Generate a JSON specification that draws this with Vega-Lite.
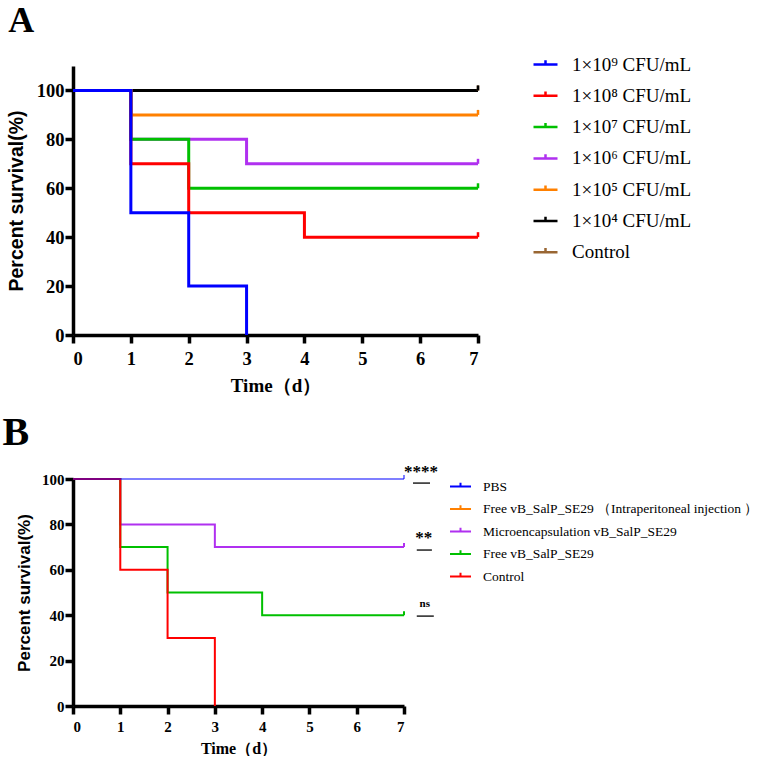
{
  "$schema": "https://vega.github.io/schema/vega-lite/v6.json",
  "background": "white",
  "padding": {"left": 2, "top": 3, "right": 0, "bottom": 0},
  "config": {
    "view": {"stroke": null},
    "axis": {
      "domainColor": "black", "domainWidth": 3.5, "tickColor": "black", "tickWidth": 3.5,
      "tickSize": 8, "grid": false, "labelColor": "black", "titleColor": "black",
      "labelFont": "Liberation Serif", "labelFontWeight": "bold"
    },
    "legend": {"labelFont": "Liberation Serif", "labelColor": "black", "labelFontWeight": "normal", "labelLimit": 500}
  },
  "datasets": {
    "a": [
      {"dose": "Control", "time": 0, "survival": 100},
      {"dose": "Control", "time": 7, "survival": 100},
      {"dose": "1×10⁴ CFU/mL", "time": 0, "survival": 100},
      {"dose": "1×10⁴ CFU/mL", "time": 7, "survival": 100},
      {"dose": "1×10⁵ CFU/mL", "time": 0, "survival": 100},
      {"dose": "1×10⁵ CFU/mL", "time": 1, "survival": 90},
      {"dose": "1×10⁵ CFU/mL", "time": 7, "survival": 90},
      {"dose": "1×10⁶ CFU/mL", "time": 0, "survival": 100},
      {"dose": "1×10⁶ CFU/mL", "time": 1, "survival": 80},
      {"dose": "1×10⁶ CFU/mL", "time": 3, "survival": 70},
      {"dose": "1×10⁶ CFU/mL", "time": 7, "survival": 70},
      {"dose": "1×10⁷ CFU/mL", "time": 0, "survival": 100},
      {"dose": "1×10⁷ CFU/mL", "time": 1, "survival": 80},
      {"dose": "1×10⁷ CFU/mL", "time": 2, "survival": 60},
      {"dose": "1×10⁷ CFU/mL", "time": 7, "survival": 60},
      {"dose": "1×10⁸ CFU/mL", "time": 0, "survival": 100},
      {"dose": "1×10⁸ CFU/mL", "time": 1, "survival": 70},
      {"dose": "1×10⁸ CFU/mL", "time": 2, "survival": 50},
      {"dose": "1×10⁸ CFU/mL", "time": 4, "survival": 40},
      {"dose": "1×10⁸ CFU/mL", "time": 7, "survival": 40},
      {"dose": "1×10⁹ CFU/mL", "time": 0, "survival": 100},
      {"dose": "1×10⁹ CFU/mL", "time": 1, "survival": 50},
      {"dose": "1×10⁹ CFU/mL", "time": 2, "survival": 20},
      {"dose": "1×10⁹ CFU/mL", "time": 3, "survival": 0}
    ],
    "b": [
      {"treatment": "Microencapsulation vB_SalP_SE29", "time": 0, "survival": 100},
      {"treatment": "Microencapsulation vB_SalP_SE29", "time": 1, "survival": 80},
      {"treatment": "Microencapsulation vB_SalP_SE29", "time": 3, "survival": 70},
      {"treatment": "Microencapsulation vB_SalP_SE29", "time": 7, "survival": 70},
      {"treatment": "Free vB_SalP_SE29", "time": 0, "survival": 100},
      {"treatment": "Free vB_SalP_SE29", "time": 1, "survival": 70},
      {"treatment": "Free vB_SalP_SE29", "time": 2, "survival": 50},
      {"treatment": "Free vB_SalP_SE29", "time": 4, "survival": 40},
      {"treatment": "Free vB_SalP_SE29", "time": 7, "survival": 40},
      {"treatment": "Control", "time": 0, "survival": 100},
      {"treatment": "Control", "time": 1, "survival": 60},
      {"treatment": "Control", "time": 2, "survival": 30},
      {"treatment": "Control", "time": 3, "survival": 0},
      {"treatment": "PBS", "time": 0, "survival": 100},
      {"treatment": "PBS", "time": 7, "survival": 100}
    ],
    "sig": [
      {"label": "****", "x": 7.36, "y": 103, "x1": 7.19, "x2": 7.55, "ly": 98.2, "size": "big"},
      {"label": "**", "x": 7.42, "y": 74, "x1": 7.27, "x2": 7.59, "ly": 68.7, "size": "big"},
      {"label": "ns", "x": 7.44, "y": 45, "x1": 7.27, "x2": 7.63, "ly": 39.6, "size": "small"}
    ]
  },
  "vconcat": [
    {
      "title": {"text": "A", "anchor": "start", "frame": "bounds", "font": "Liberation Serif", "fontWeight": "bold", "fontSize": 36, "color": "black", "offset": 11, "dx": 2},
      "width": 405,
      "height": 269,
      "data": {"name": "a"},
      "encoding": {
        "x": {"field": "time", "type": "quantitative", "scale": {"domain": [0, 7], "nice": false},
          "axis": {"values": [0,1,2,3,4,5,6,7], "labelFontSize": 18.5, "labelPadding": 6, "title": "Time（d）", "titleFont": "Liberation Serif", "titleFontSize": 19, "titleFontWeight": "bold", "titlePadding": 9}},
        "y": {"field": "survival", "type": "quantitative", "scale": {"domain": [0, 110], "nice": false},
          "axis": {"values": [0,20,40,60,80,100], "labelFontSize": 18.5, "labelPadding": 1, "title": "Percent survival(%)", "titleFont": "Liberation Sans", "titleFontSize": 19.5, "titleFontWeight": "bold", "titlePadding": 10}},
        "color": {"field": "dose", "type": "nominal",
          "scale": {"domain": ["1×10⁹ CFU/mL", "1×10⁸ CFU/mL", "1×10⁷ CFU/mL", "1×10⁶ CFU/mL", "1×10⁵ CFU/mL", "1×10⁴ CFU/mL", "Control"],
                    "range": ["#0000ff", "#ff0000", "#00c000", "#b030f0", "#ff8000", "#000000", "#996633"]},
          "legend": {"title": null, "orient": "none", "legendX": 459, "legendY": -15, "labelFontSize": 19, "symbolType": "M-1,0H1M0,0V-0.35", "symbolSize": 576, "symbolStrokeWidth": 2.5, "symbolFillColor": "transparent", "rowPadding": 7.3, "labelOffset": 13}}
      },
      "layer": [
        {"mark": {"type": "line", "interpolate": "step-after", "strokeWidth": 3}},
        {"transform": [{"filter": "datum.time == 7"}],
         "mark": {"type": "point", "shape": "M0,0V-1", "size": 100, "strokeWidth": 2.5, "filled": false, "opacity": 1}}
      ]
    },
    {
      "title": {"text": "B", "anchor": "start", "frame": "bounds", "font": "Liberation Serif", "fontWeight": "bold", "fontSize": 40, "color": "black", "offset": 10, "dx": -13},
      "width": 331,
      "height": 227,
      "layer": [
        {
          "data": {"name": "b"},
          "encoding": {
            "x": {"field": "time", "type": "quantitative", "scale": {"domain": [0, 7], "nice": false},
              "axis": {"values": [0,1,2,3,4,5,6,7], "labelFontSize": 15, "labelPadding": 5, "title": "Time（d）", "titleFont": "Liberation Serif", "titleFontSize": 16, "titleFontWeight": "bold", "titlePadding": 6}},
            "y": {"field": "survival", "type": "quantitative", "scale": {"domain": [0, 100], "nice": false},
              "axis": {"values": [0,20,40,60,80,100], "labelFontSize": 15, "labelPadding": 1, "title": "Percent survival(%)", "titleFont": "Liberation Sans", "titleFontSize": 17, "titleFontWeight": "bold", "titlePadding": 8}},
            "color": {"field": "treatment", "type": "nominal",
              "scale": {"domain": ["PBS", "Free vB_SalP_SE29 （Intraperitoneal injection ）", "Microencapsulation vB_SalP_SE29", "Free vB_SalP_SE29", "Control"],
                        "range": ["#0000ff", "#ff8000", "#b030f0", "#00c000", "#ff0000"]},
              "legend": {"title": null, "orient": "none", "legendX": 376, "legendY": -4, "labelFontSize": 13.5, "symbolType": "M-1,0H1M0,0V-0.35", "symbolSize": 441, "symbolStrokeWidth": 2, "symbolFillColor": "transparent", "rowPadding": 4.5, "labelOffset": 11}},
            "strokeOpacity": {"condition": {"test": "datum.treatment === 'PBS'", "value": 0.5}, "value": 1}
          },
          "layer": [
            {"mark": {"type": "line", "interpolate": "step-after", "strokeWidth": 2}},
            {"transform": [{"filter": "datum.time == 7"}],
             "mark": {"type": "point", "shape": "M0,0V-1", "size": 64, "strokeWidth": 2, "filled": false, "opacity": 1}}
          ]
        },
        {
          "data": {"name": "sig"},
          "layer": [
            {"mark": {"type": "text", "font": "Liberation Serif", "fontWeight": "bold", "baseline": "middle", "color": "black"},
             "encoding": {"x": {"field": "x", "type": "quantitative"}, "y": {"field": "y", "type": "quantitative"}, "text": {"field": "label"},
               "size": {"field": "size", "type": "nominal", "scale": {"domain": ["big", "small"], "range": [17, 11]}, "legend": null}}},
            {"mark": {"type": "rule", "color": "#222222", "strokeWidth": 1.5},
             "encoding": {"x": {"field": "x1", "type": "quantitative"}, "x2": {"field": "x2"}, "y": {"field": "ly", "type": "quantitative"}}}
          ]
        }
      ]
    }
  ],
  "spacing": 17,
  "resolve": {"scale": {"color": "independent"}, "legend": {"color": "independent"}}
}
